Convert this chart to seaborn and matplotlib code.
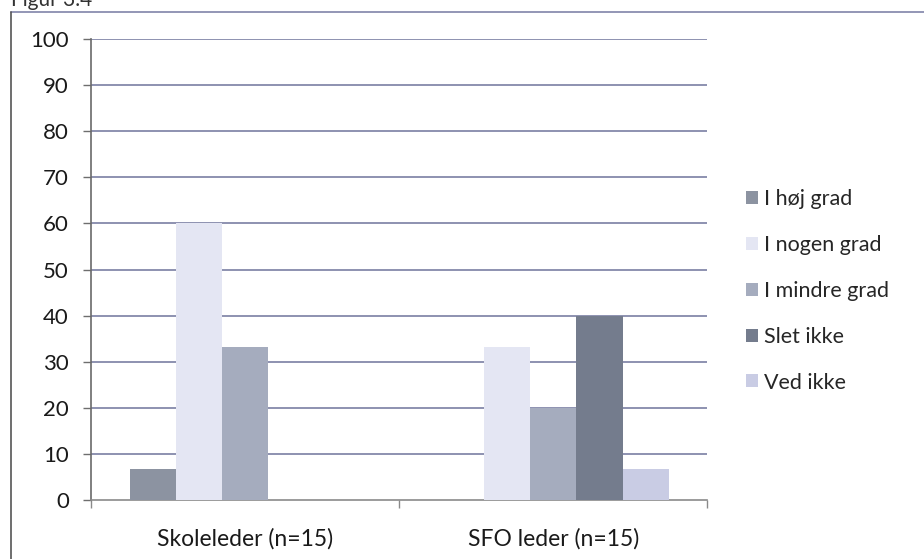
import matplotlib
matplotlib.use("Agg")
import matplotlib.pyplot as plt
from matplotlib.patches import Patch
import seaborn as sns
import pandas as pd

# Survey answers (percent) per respondent group
groups = ["Skoleleder (n=15)", "SFO leder (n=15)"]
answers = ["I høj grad", "I nogen grad", "I mindre grad", "Slet ikke", "Ved ikke"]
skoleleder = [6.7, 60.0, 33.3, 0.0, 0.0]
sfo_leder = [0.0, 33.3, 20.0, 40.0, 6.7]
y_ticks = [0, 10, 20, 30, 40, 50, 60, 70, 80, 90, 100]

colors = ["#8c93a1", "#e4e6f3", "#a5acbe", "#747c8d", "#c9cce4"]

rows = []
for g, vals in zip(groups, [skoleleder, sfo_leder]):
    for a, v in zip(answers, vals):
        rows.append({"gruppe": g, "svar": a, "pct": v})
df = pd.DataFrame(rows)

sns.set_theme(style="white")
plt.rcParams["font.family"] = ["Lato", "DejaVu Sans"]

fig = plt.figure(figsize=(9.24, 5.59), dpi=100)
ax = fig.add_axes([0.0985, 0.1055, 0.667, 0.8245])

sns.barplot(data=df, x="gruppe", y="pct", hue="svar", order=groups,
            hue_order=answers, palette=colors, width=0.75, ax=ax,
            saturation=1, legend=False, zorder=3, linewidth=0)

ax.set_ylim(0, 100)
ax.set_xlim(-0.5, 1.5)
ax.set_yticks(y_ticks)
ax.set_yticklabels([str(t) for t in y_ticks], fontsize=16, color="#1a1a1a")
ax.tick_params(axis="y", direction="out", length=6, width=1, color="#6e6e6e",
               left=True, pad=10)
ax.set_xticks([0, 1])
ax.set_xticklabels(groups, fontsize=16.5, color="#1a1a1a")
ax.tick_params(axis="x", which="major", length=0, pad=20)
ax.set_xticks([-0.5, 0.5, 1.5], minor=True)
ax.tick_params(axis="x", which="minor", direction="out", length=6, width=1,
               color="#8a8a8a", bottom=True)
ax.set_xlabel("")
ax.set_ylabel("")

for y in y_ticks[1:]:
    ax.axhline(y, color="#8589aa", lw=1.3, zorder=1)

for s in ["top", "right"]:
    ax.spines[s].set_visible(False)
ax.spines["left"].set_color("#6a6a6a")
ax.spines["left"].set_linewidth(1.2)
ax.spines["bottom"].set_color("#8a8a8a")
ax.spines["bottom"].set_linewidth(1.2)

handles = [Patch(facecolor=c, edgecolor="none") for c in colors]
fig.legend(handles, answers, loc="upper left", bbox_to_anchor=(0.798, 0.677),
           frameon=False, fontsize=15.5, handlelength=0.55, handleheight=0.55,
           handletextpad=0.3, labelspacing=1.2, borderaxespad=0)

# outer frame lines (top and left) and figure caption
fig.add_artist(plt.Line2D([0.012, 1.0], [1 - 11.5 / 559] * 2,
                          transform=fig.transFigure, color="#8a8db0", lw=1.3))
fig.add_artist(plt.Line2D([0.012, 0.012], [1 - 11.5 / 559, 0.0],
                          transform=fig.transFigure, color="#555555", lw=1.2))
fig.text(0.012, 1 - 6 / 559, "Figur 3.4", fontsize=15, va="baseline",
         color="#333333")

fig.savefig("out.png", dpi=100)
